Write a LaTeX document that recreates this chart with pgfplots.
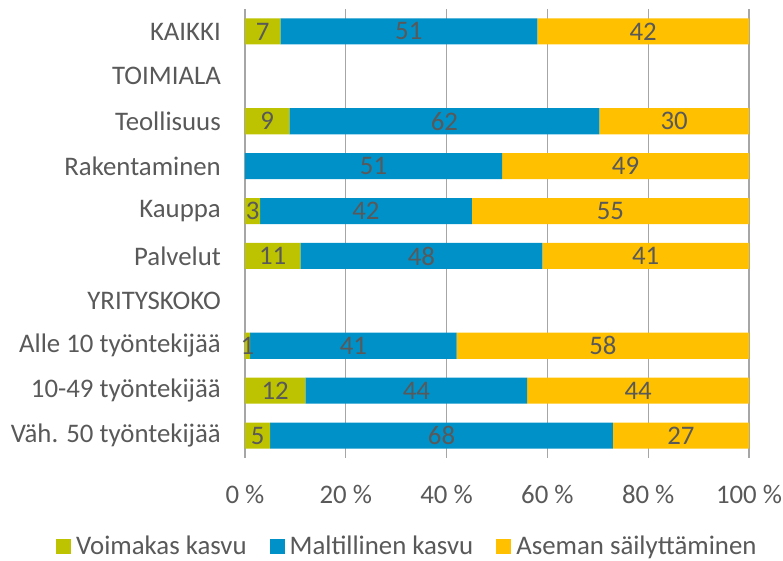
\documentclass[border=0pt]{standalone}
\usepackage{pgfplots}
\pgfplotsset{compat=1.18}
\usepackage{fontspec}
\setmainfont{Carlito}
\definecolor{cgreen}{RGB}{189,195,0}
\definecolor{cblue}{RGB}{0,145,200}
\definecolor{cyellow}{RGB}{255,192,0}
\definecolor{ctext}{RGB}{89,89,89}
\definecolor{cgrid}{RGB}{166,166,166}
\newcommand{\cfont}{\fontsize{26.8}{32}\selectfont}
\begin{document}
\begin{tikzpicture}
\begin{axis}[
  name=ax,
  scale only axis, width=504pt, height=449pt,
  xbar stacked, bar width=0.58,
  xmin=0, xmax=100, ymin=-0.5, ymax=9.5, y dir=reverse,
  xtick={0,20,...,100},
  xticklabels={0 \%,20 \%,40 \%,60 \%,80 \%,100 \%},
  ytick={0,...,9},
  yticklabels={KAIKKI,TOIMIALA,Teollisuus,Rakentaminen,Kauppa,Palvelut,YRITYSKOKO,Alle 10 työntekijää,10-49 työntekijää,Väh. 50 työntekijää},
  xmajorgrids, major grid style={cgrid, line width=1.2pt},
  axis line style={draw=none}, tick style={draw=none},
  tick label style={font=\cfont, text=ctext},
  yticklabel style={inner sep=0pt, xshift=-24pt},
  xticklabel style={inner sep=0pt, yshift=-27pt},
  point meta=explicit symbolic,
  nodes near coords,
  every node near coord/.append style={font=\cfont, text=ctext, anchor=center, inner sep=0pt},
  legend columns=3,
  legend style={at={(0.321,-0.196)}, anchor=center, draw=none, font=\cfont, text=ctext,
    nodes={inner sep=1pt},
    /tikz/every odd column/.append style={column sep=4pt},
    /tikz/every even column/.append style={column sep=22pt}},
  legend image code/.code={\fill[#1] (0pt,-7.5pt) rectangle (15pt,7.5pt);},
]
\addplot[fill=cgreen, draw=none] coordinates {
  (7,0) [7]
  (0,1) [{}]
  (8.8,2) [9]
  (0,3) [{}]
  (3,4) [3]
  (11,5) [11]
  (0,6) [{}]
  (1,7) [1]
  (12,8) [12]
  (5,9) [5]
};
\addplot[fill=cblue, draw=none] coordinates {
  (51,0) [51]
  (0,1) [{}]
  (61.5,2) [62]
  (51,3) [51]
  (42,4) [42]
  (48,5) [48]
  (0,6) [{}]
  (41,7) [41]
  (44,8) [44]
  (68,9) [68]
};
\addplot[fill=cyellow, draw=none] coordinates {
  (42,0) [42]
  (0,1) [{}]
  (29.7,2) [30]
  (49,3) [49]
  (55,4) [55]
  (41,5) [41]
  (0,6) [{}]
  (58,7) [58]
  (44,8) [44]
  (27,9) [27]
};
\legend{Voimakas kasvu, Maltillinen kasvu, Aseman säilyttäminen}
\end{axis}
\path ([xshift=-245pt,yshift=-102pt]ax.south west) rectangle ([xshift=34pt,yshift=9pt]ax.north east);
\end{tikzpicture}
\end{document}
